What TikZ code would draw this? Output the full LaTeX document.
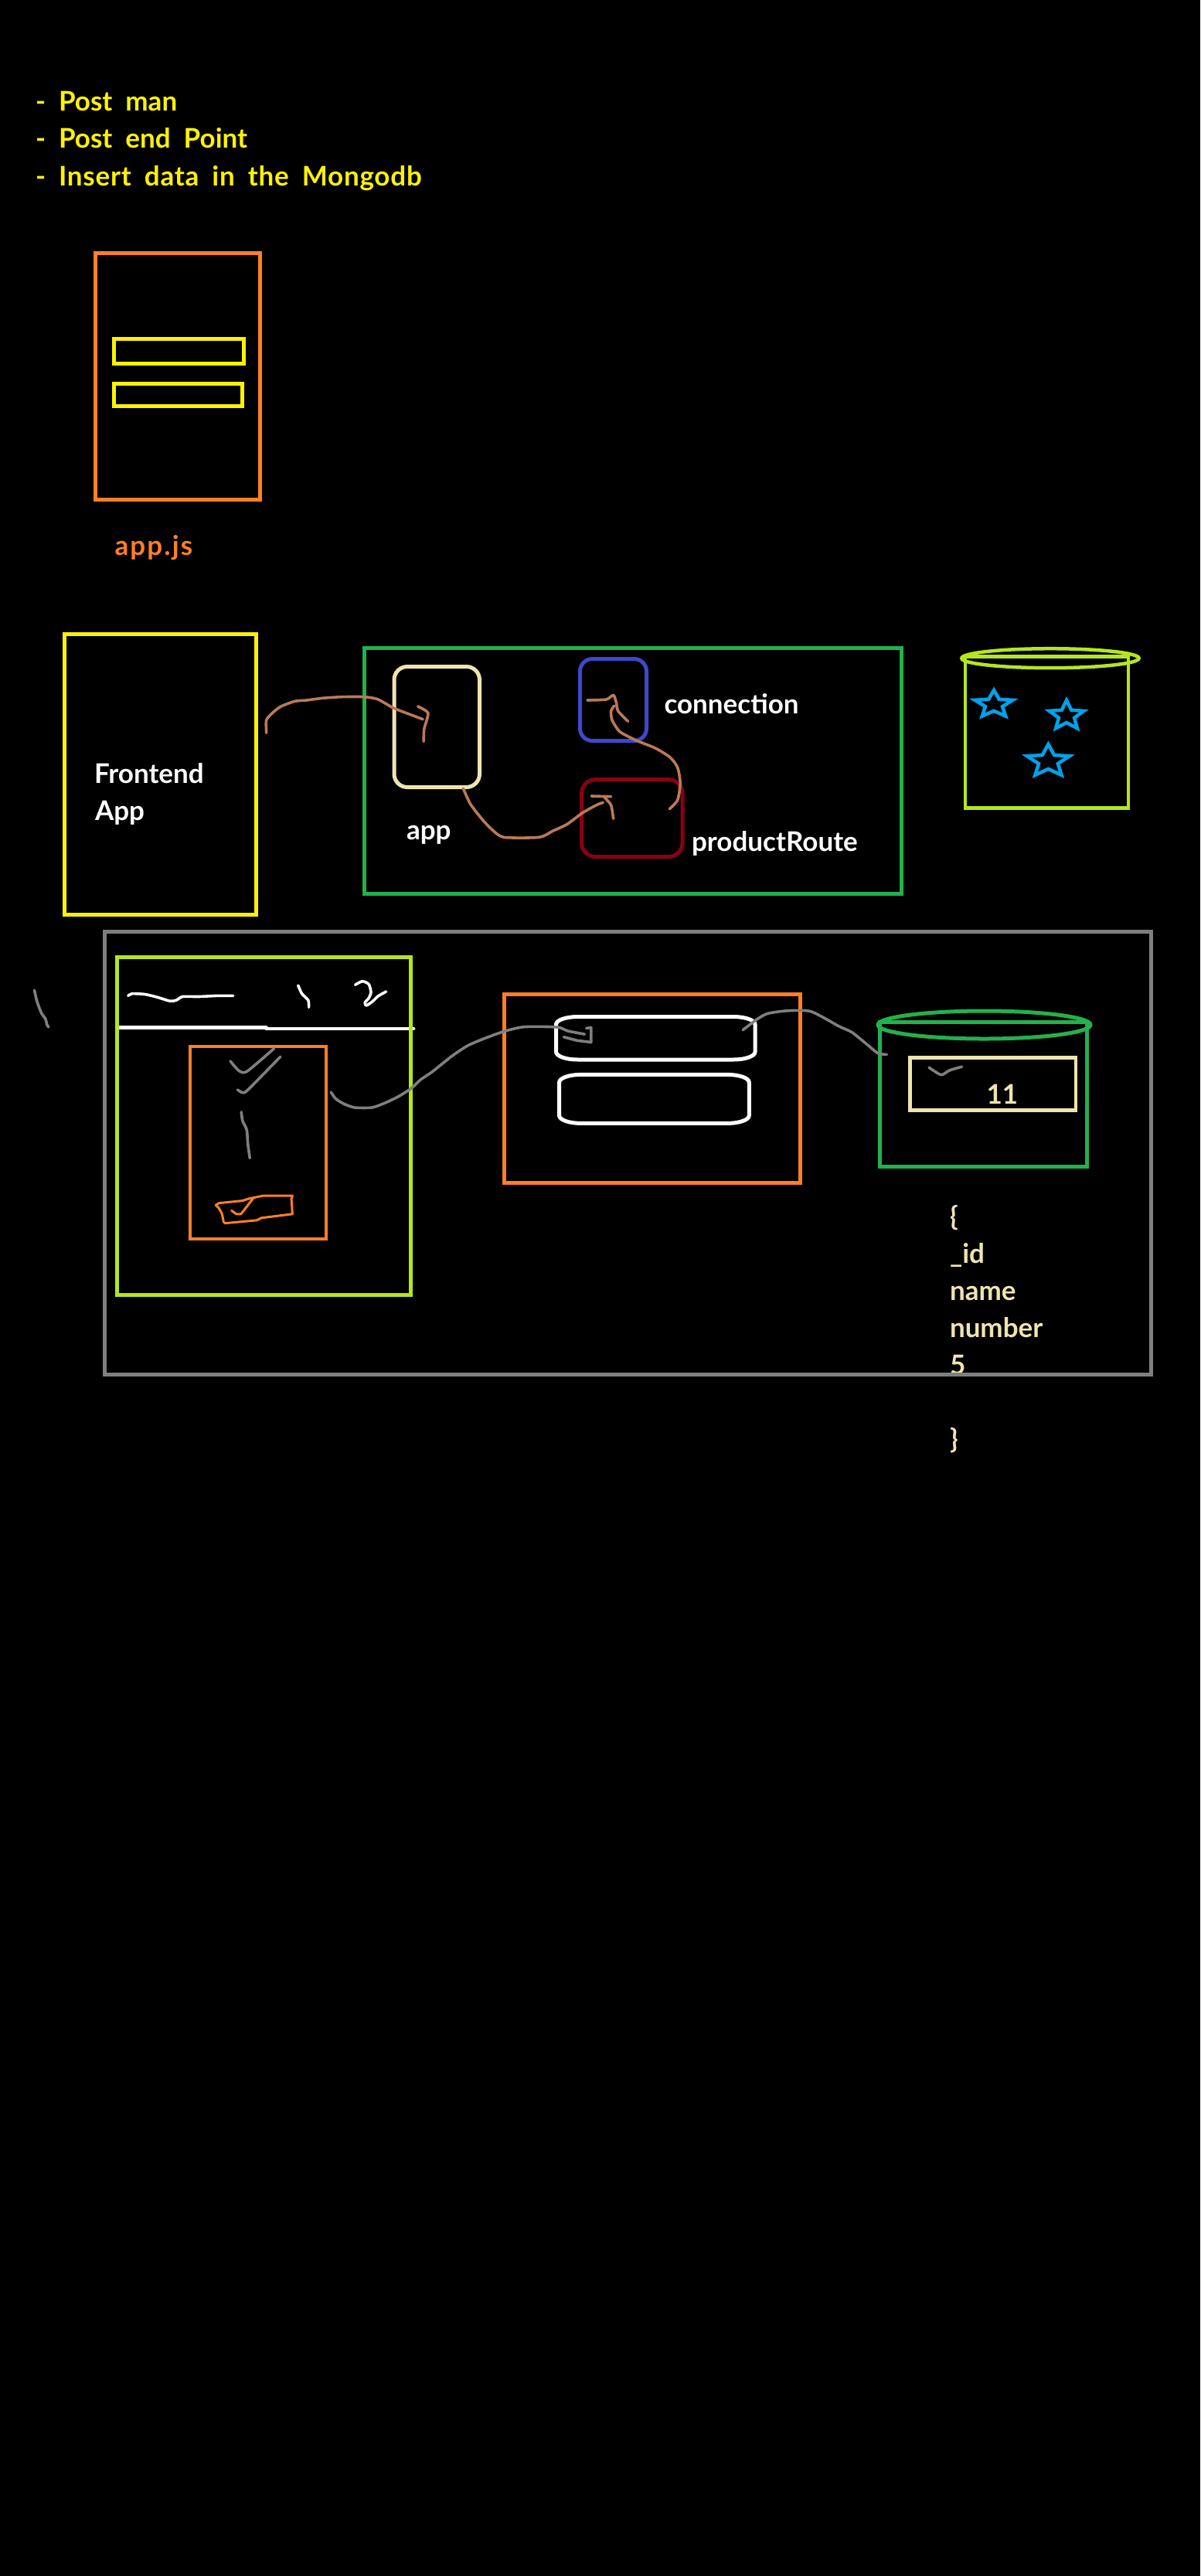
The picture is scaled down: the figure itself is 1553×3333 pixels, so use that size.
\documentclass[tikz,border=0pt]{standalone}
\usepackage{fontspec}
\setmainfont{Lato}
\usetikzlibrary{shapes.geometric}
\definecolor{cyellow}{HTML}{FFF200}
\definecolor{corange}{HTML}{FF7F27}
\definecolor{clime}{HTML}{B5E61D}
\definecolor{cgreen}{HTML}{22B14C}
\definecolor{cblue}{HTML}{3F48CC}
\definecolor{cred}{HTML}{880015}
\definecolor{cbrown}{HTML}{B97A57}
\definecolor{csky}{HTML}{00A2E8}
\definecolor{cgrey}{HTML}{7F7F7F}
\definecolor{ccream}{HTML}{EFE4B0}
\newcommand{\skystar}[4]{\begin{scope}[shift={(#1,#2)},x=#3pt,y=-#4pt]
\draw[csky,line width=4.5pt,line join=miter] (0,-1)--(-.265,-.364)--(-.951,-.309)--(-.428,.139)--(-.588,.809)--(0,.45)--(.588,.809)--(.428,.139)--(.951,-.309)--(.265,-.364)--cycle;
\end{scope}}
\newcommand{\widespace}{\spaceskip=17pt\relax}
\tikzset{
  box/.style={draw=#1,rectangle,inner sep=0pt,outer sep=0pt,line width=5pt},
  oval/.style={draw=#1,ellipse,inner sep=0pt,outer sep=0pt,line width=4.5pt},
  txt/.style={text=#1,anchor=base west,inner sep=0pt,outer sep=0pt,font=\fontsize{35pt}{40pt}\selectfont\bfseries},
  sk/.style={draw=#1,line cap=round,line join=round,line width=3.6pt},
  zsm/.style={smooth,tension=0.4}
}
\begin{document}
\begin{tikzpicture}[x=1pt,y=-1pt]
\useasboundingbox (0,0) rectangle (1553,3333);
\fill[black] (0,0) rectangle (1553,3333);

% heading
\node[txt=cyellow] (t1) at (46,143.5) {\widespace - Post man};
\node[txt=cyellow] (t2) at (46,191.7) {\widespace - Post end Point};
\node[txt=cyellow] (t3) at (46,240) {\addfontfeature{LetterSpace=2.2}\widespace - Insert data in the Mongodb};

% app.js
\node[box=corange,minimum width=213.4pt,minimum height=318.8pt] (appjsbox) at (230,487.1) {};
\node[box=cyellow,minimum width=168.4pt,minimum height=32pt] (input1) at (231.5,454.5) {};
\node[box=cyellow,minimum width=166.5pt,minimum height=29.5pt] (input2) at (230.55,510.75) {};
\node[txt=corange] (appjs) at (148.5,718.5) {\addfontfeature{LetterSpace=6}app.js};

% row 2
\node[box=cyellow,minimum width=248pt,minimum height=363pt] (frontend) at (207.5,1002) {};
\node[txt=white] (fe1) at (122,1013) {Frontend};
\node[txt=white] (fe2) at (123,1061.7) {App};
\node[box=cgreen,minimum width=695pt,minimum height=318pt] (server) at (818.5,997.5) {};
\node[box=ccream,rounded corners=17pt,minimum width=110.5pt,minimum height=156pt] (appbox) at (565.25,940.5) {};
\node[box=cblue,rounded corners=16pt,minimum width=86pt,minimum height=106pt] (connbox) at (793.5,905.5) {};
\node[box=cred,rounded corners=18pt,minimum width=130.5pt,minimum height=100pt] (routebox) at (817.75,1058.5) {};
\node[txt=white] (applbl) at (526,1086.7) {app};
\node[txt=white] (connlbl) at (859.5,923.3) {connection};
\node[txt=white] (routelbl) at (895,1101.7) {productRoute};

% database top
\node[box=clime,line width=4.5pt,minimum width=211pt,minimum height=196.2pt] (dbbody) at (1354.5,947.4) {};
\node[oval=clime,minimum width=229.4pt,minimum height=25pt] (dbtop) at (1359,851.7) {};
\skystar{1286}{911.5}{25.8}{18.5}
\skystar{1380}{926}{23.5}{20}
\skystar{1356.4}{985}{29}{22}

% brown strokes
\begin{scope}[shift={(60,780)},x=0.5102pt,y=-0.3333pt]
\coordinate (b1s) at (558,505);
\coordinate (b1e) at (955,452);
\draw[sk=cbrown] plot[zsm] coordinates {(b1s) (558,455) (575,425) (595,402) (630,382) (660,378) (700,370) (750,365) (805,365) (840,374) (880,408) (920,432) (b1e)};
\draw[sk=cbrown] plot[zsm] coordinates {(942,402) (968,428) (958,490) (957,538)};
\coordinate (b2s) at (1057,720);
\coordinate (b2e) at (1412,775);
\draw[sk=cbrown] plot[zsm] coordinates {(b2s) (1075,780) (1105,840) (1130,880) (1160,910) (1250,910) (1285,885) (1320,860) (1360,815) (1395,785) (b2e)};
\draw[sk=cbrown] (1382,750) -- (1432,752);
\draw[sk=cbrown] plot[zsm] coordinates {(1415,755) (1432,785) (1438,838)};
\draw[sk=cbrown] plot[zsm] coordinates {(1372,378) (1420,375) (1438,358) (1445,385) (1450,420) (1475,460)};
\end{scope}
\coordinate (b3s) at (866.3,1046.7);
\coordinate (b3e) at (794.7,913.3);
\draw[sk=cbrown] plot[zsm] coordinates {(b3s) (876.8,1035) (880.2,1013.3) (876.8,993.3) (867.2,980) (848,968) (824,958.3) (802,946.7) (792,931.7) (790.6,920) (b3e)};

% lower panel: user interface
\begin{scope}[shift={(20,1190)},x=0.40816pt,y=-0.3827pt]
\draw[sk=cgrey] plot[zsm] coordinates {(60,238) (68,275) (82,315) (95,335) (100,355) (105,363)};
\draw[sk=white,line width=4.5pt] (328,365) -- (795,365) -- (795,368) -- (1262,368);
\draw[sk=white] plot[zsm] coordinates {(357,257) (370,250) (410,252) (450,262) (490,275) (510,272) (530,260) (580,260) (640,257) (690,257)};
\draw[sk=white] plot[zsm] coordinates {(896,222) (908,250) (928,272) (930,296)};
\draw[sk=white] plot[zsm] coordinates {(1077,220) (1100,208) (1120,218) (1127,245) (1120,265) (1108,280) (1112,290) (1130,278) (1150,258) (1175,243)};
\end{scope}
\node[box=clime,minimum width=379.5pt,minimum height=436.5pt] (browser) at (341.25,1456.75) {};
\node[box=corange,line width=4.5pt,minimum width=175.8pt,minimum height=249pt] (form) at (334.1,1478.5) {};
\begin{scope}[shift={(20,1190)},x=0.40816pt,y=-0.3827pt]
\draw[sk=cgrey] plot[zsm] coordinates {(681,478) (710,512) (735,512) (820,435)};
\draw[sk=cgrey] plot[zsm] coordinates {(704,575) (722,585) (740,572) (840,463)};
\draw[sk=cgrey] plot[zsm] coordinates {(716,650) (720,680) (733,710) (737,760) (743,806)};
\draw[sk=corange,line width=3pt] (645,958) -- (635,965) -- (645,975) -- (655,995) -- (660,1022) -- (665,1026) -- (765,1016) -- (780,1008) -- (878,995) -- (875,945) -- (878,933) -- (785,933) -- (740,943) -- (720,950) -- cycle;
\draw[sk=corange,line width=3pt] (685,983) -- (700,995) -- (715,995) -- (755,940);
\end{scope}

% lower panel: middle box
\node[box=corange,minimum width=383.8pt,minimum height=244pt] (api) at (843.9,1408.5) {};
\draw[white,line width=5pt] (747.5,1315.5) -- (949,1315.5) .. controls (964.4,1315.5) and (977,1320) .. (977,1325.5) -- (977,1361) .. controls (977,1366.5) and (964.4,1371) .. (949,1371) -- (747.5,1371) .. controls (732.1,1371) and (719.5,1366.5) .. (719.5,1361) -- (719.5,1325.5) .. controls (719.5,1320) and (732.1,1315.5) .. (747.5,1315.5) -- cycle;
\draw[white,line width=5pt] (751.6,1390.4) -- (941.3,1390.4) .. controls (956.7,1390.4) and (969.3,1394.9) .. (969.3,1400.4) -- (969.3,1443.4) .. controls (969.3,1448.9) and (956.7,1453.4) .. (941.3,1453.4) -- (751.6,1453.4) .. controls (736.2,1453.4) and (723.6,1448.9) .. (723.6,1443.4) -- (723.6,1400.4) .. controls (723.6,1394.9) and (736.2,1390.4) .. (751.6,1390.4) -- cycle;

% lower panel: database
\node[box=cgreen,line width=5pt,minimum width=268pt,minimum height=186.8pt] (dbbody2) at (1272,1415.6) {};
\node[oval=cgreen,line width=5pt,minimum width=275pt,minimum height=36pt] (dbtop2) at (1273.5,1326) {};
\node[box=ccream,line width=4.5pt,minimum width=214.5pt,minimum height=68pt] (record) at (1284.75,1402.5) {};
\node[txt=ccream] (eleven) at (1276.6,1428.7) {11};
\node[txt=ccream] (d1) at (1229,1586) {\{};
\node[txt=ccream] (d2) at (1229,1634) {\_id};
\node[txt=ccream] (d3) at (1229,1682) {name};
\node[txt=ccream] (d4) at (1229,1730) {number};
\node[txt=ccream] (d5) at (1229,1778) {5};
\node[txt=ccream] (d6) at (1229,1874) {\}};

% grey frame and grey strokes
\node[box=cgrey,line width=4.5pt,minimum width=1354.2pt,minimum height=573pt] (frame) at (812.6,1492) {};
\coordinate (g1s) at (428.2,1413.1);
\coordinate (g1e) at (756.4,1338.1);
\draw[sk=cgrey] plot[zsm] coordinates {(g1s) (434.3,1421.5) (444.5,1428) (458.8,1433) (481.2,1433) (497.6,1427.3) (515.9,1418.5) (532.2,1408.1) (544.5,1396.7) (558.8,1387.1) (585.3,1366) (605.7,1352.6) (628.2,1343.1) (653.7,1334) (678.9,1328.6) (721,1329) (735,1334) (g1e)};
\draw[sk=cgrey] (758.6,1330.4) -- (764.8,1329.5) -- (764.8,1348.5) -- (746.3,1346.2) -- (729.4,1341.7);
\coordinate (g2s) at (961.2,1332.7);
\coordinate (g2e) at (1147.5,1364.4);
\draw[sk=cgrey] plot[zsm] coordinates {(g2s) (979.2,1319) (993.2,1311.4) (1018.4,1307.8) (1049.3,1308.7) (1085.8,1328) (1102.6,1335.8) (1125,1354) (1136.3,1363) (g2e)};
\begin{scope}[shift={(620,1190)},x=0.5612pt,y=-0.4529pt]
\draw[sk=cgrey] plot[zsm] coordinates {(1037,422) (1065,443) (1085,430) (1113,420)};
\end{scope}
\end{tikzpicture}
\end{document}
